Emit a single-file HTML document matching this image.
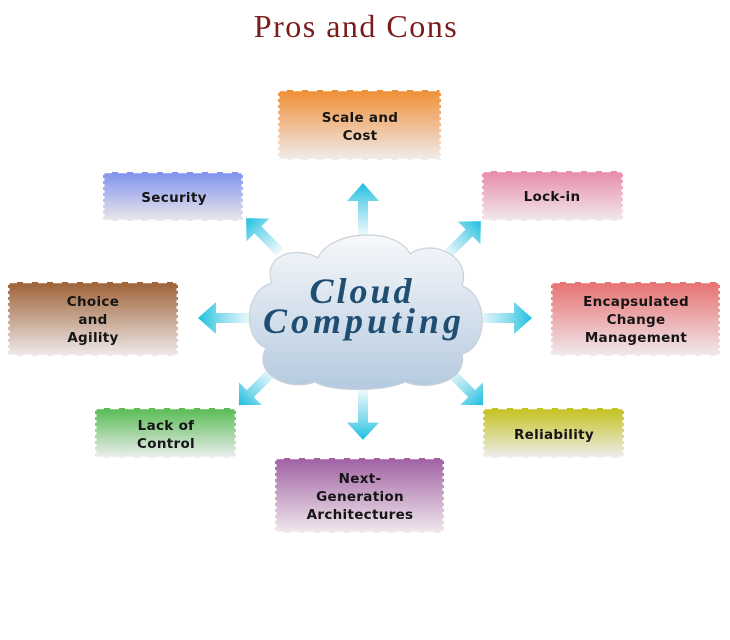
<!DOCTYPE html>
<html><head><style>
html,body{margin:0;padding:0;background:#fff;}
svg{display:block}
.t{font-family:"DejaVu Sans","Liberation Sans",sans-serif;font-size:13.5px;font-weight:bold;fill:#151515;text-anchor:middle;letter-spacing:0.3px}
</style></head><body>
<svg width="730" height="640" viewBox="0 0 730 640" xmlns="http://www.w3.org/2000/svg">
<defs>
<linearGradient id="ar" x1="0" y1="0" x2="1" y2="0"><stop offset="0" stop-color="#eef9fc"/><stop offset="0.6" stop-color="#7fd9ec"/><stop offset="1" stop-color="#1cc0df"/></linearGradient>
<linearGradient id="cl" x1="0" y1="0" x2="0" y2="1"><stop offset="0" stop-color="#f6f8fb"/><stop offset="1" stop-color="#b5cadf"/></linearGradient>
<linearGradient id="g1" x1="0" y1="0" x2="0" y2="1"><stop offset="0" stop-color="#ef8e34"/><stop offset="1" stop-color="#f1ecee"/></linearGradient>
<linearGradient id="g2" x1="0" y1="0" x2="0" y2="1"><stop offset="0" stop-color="#7f93ee"/><stop offset="1" stop-color="#ece6ea"/></linearGradient>
<linearGradient id="g3" x1="0" y1="0" x2="0" y2="1"><stop offset="0" stop-color="#e78aab"/><stop offset="1" stop-color="#f1eaee"/></linearGradient>
<linearGradient id="g4" x1="0" y1="0" x2="0" y2="1"><stop offset="0" stop-color="#9d6236"/><stop offset="1" stop-color="#f0eaec"/></linearGradient>
<linearGradient id="g5" x1="0" y1="0" x2="0" y2="1"><stop offset="0" stop-color="#e77070"/><stop offset="1" stop-color="#f0eaee"/></linearGradient>
<linearGradient id="g6" x1="0" y1="0" x2="0" y2="1"><stop offset="0" stop-color="#56bb52"/><stop offset="1" stop-color="#eeeef0"/></linearGradient>
<linearGradient id="g7" x1="0" y1="0" x2="0" y2="1"><stop offset="0" stop-color="#c4c21c"/><stop offset="1" stop-color="#eeeef0"/></linearGradient>
<linearGradient id="g8" x1="0" y1="0" x2="0" y2="1"><stop offset="0" stop-color="#a060a2"/><stop offset="1" stop-color="#f1eaee"/></linearGradient>
<path id="arrow" d="M0,-5 L34,-5 L34,-16 L52,0 L34,16 L34,5 L0,5 Z" fill="url(#ar)"/>
</defs>

<text x="356" y="37" font-family="Liberation Serif,serif" font-size="32" fill="#7a1c1c" text-anchor="middle" letter-spacing="1.5">Pros and Cons</text>

<g>
<rect x="278" y="90" width="163" height="70" fill="url(#g1)"/>
<rect x="103" y="172" width="140" height="49" fill="url(#g2)"/>
<rect x="482" y="171" width="141" height="50" fill="url(#g3)"/>
<rect x="8" y="282" width="170" height="74" fill="url(#g4)"/>
<rect x="551" y="282" width="169" height="74" fill="url(#g5)"/>
<rect x="95" y="408" width="141" height="50" fill="url(#g6)"/>
<rect x="483" y="408" width="141" height="50" fill="url(#g7)"/>
<rect x="275" y="458" width="169" height="75" fill="url(#g8)"/>
</g>
<g fill="none" stroke="#fff" stroke-width="2.5" stroke-dasharray="9 6">
<path d="M278,90 h163 M278,160 h163 M103,172 h140 M103,221 h140 M482,171 h141 M482,221 h141 M8,282 h170 M8,356 h170 M551,282 h169 M551,356 h169 M95,408 h141 M95,458 h141 M483,408 h141 M483,458 h141 M275,458 h169 M275,533 h169"/>
</g>
<g fill="none" stroke="#fff" stroke-width="3" stroke-dasharray="3 3">
<path d="M278,90 v70 M441,90 v70 M103,172 v49 M243,172 v49 M482,171 v50 M623,171 v50 M8,282 v74 M178,282 v74 M551,282 v74 M720,282 v74 M95,408 v50 M236,408 v50 M483,408 v50 M624,408 v50 M275,458 v75 M444,458 v75"/>
</g>

<g>
<text class="t" x="360" y="122">Scale and</text><text class="t" x="360" y="140">Cost</text>
<text class="t" x="174" y="202">Security</text>
<text class="t" x="552" y="201">Lock-in</text>
<text class="t" x="93" y="306">Choice</text><text class="t" x="93" y="324">and</text><text class="t" x="93" y="342">Agility</text>
<text class="t" x="636" y="306">Encapsulated</text><text class="t" x="636" y="324">Change</text><text class="t" x="636" y="342">Management</text>
<text class="t" x="166" y="430">Lack of</text><text class="t" x="166" y="448">Control</text>
<text class="t" x="554" y="439">Reliability</text>
<text class="t" x="360" y="483">Next-</text><text class="t" x="360" y="501">Generation</text><text class="t" x="360" y="519">Architectures</text>
</g>

<use href="#arrow" transform="translate(363,235) rotate(-90)"/>
<use href="#arrow" transform="translate(363,390) rotate(90) scale(0.96,1)"/>
<use href="#arrow" transform="translate(250,318) rotate(180)"/>
<use href="#arrow" transform="translate(480,318)"/>
<use href="#arrow" transform="translate(280,252) rotate(-135) scale(0.92,1)"/>
<use href="#arrow" transform="translate(447,255) rotate(-45) scale(0.92,1)"/>
<use href="#arrow" transform="translate(272,372) rotate(135) scale(0.9,1)"/>
<use href="#arrow" transform="translate(450,372) rotate(45) scale(0.9,1)"/>

<path d="M266,348 C242,338 244,290 272,283 C262,258 292,244 318,258 C330,230 396,226 410,254 C432,238 472,256 462,286 C490,296 488,348 462,354 C468,380 430,392 405,382 C385,392 330,392 315,382 C288,392 252,374 266,348 Z" fill="url(#cl)" stroke="#c9d2da" stroke-width="1.2"/>
<text x="362" y="303" font-family="Liberation Serif,serif" font-weight="bold" font-style="italic" font-size="36" fill="#1f4e72" text-anchor="middle" letter-spacing="3">Cloud</text>
<text x="364" y="333" font-family="Liberation Serif,serif" font-weight="bold" font-style="italic" font-size="36" fill="#1f4e72" text-anchor="middle" letter-spacing="4">Computing</text>
</svg>
</body></html>
